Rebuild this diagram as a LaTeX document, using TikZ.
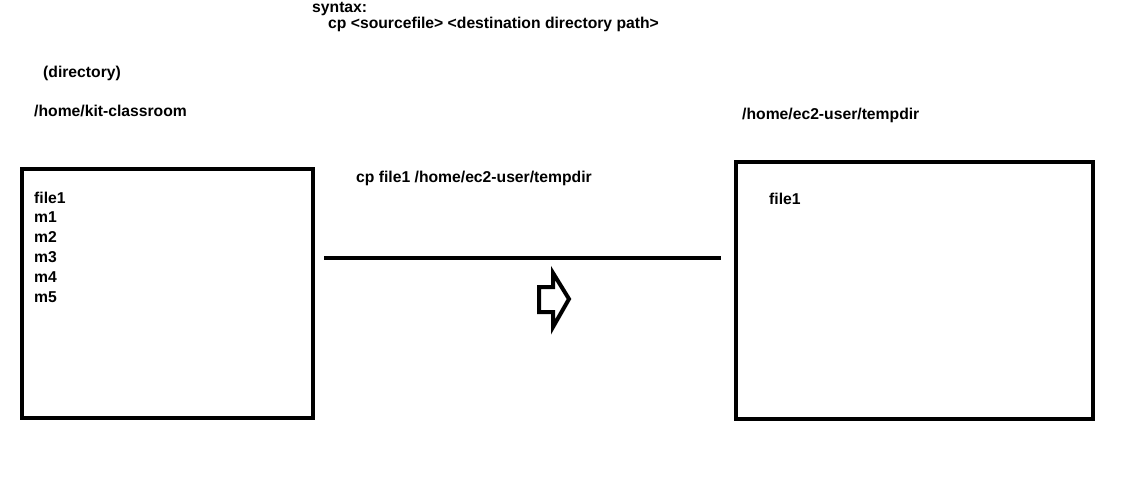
\documentclass[tikz,border=0pt]{standalone}
\usepackage{fontspec}
\setmainfont{Liberation Sans}
\newcommand{\dirbox}[1]
{   \draw[line width=4.5pt] #1;
}
\tikzset{lbl/.style={anchor=west,inner sep=0pt,font=\fontsize{15.7}{18}\selectfont\bfseries}}

\begin{document}
\begin{tikzpicture}[x=1pt,y=-1pt]
 \useasboundingbox (0,0) rectangle (1140,483);
 \node[lbl] (syn) at (312,9) {syntax:};
 \node[lbl] (usage) at (328,24.5) {cp <sourcefile> <destination directory path>};
 \node[lbl] (dirnote) at (43,73.5) {(directory)};
 \node[lbl] (srcpath) at (34,110.5) {/home/kit-classroom};
 \node[lbl] (dstpath) at (742,115.5) {/home/ec2-user/tempdir};
 \node[lbl] (cmd) at (356,178.5) {cp file1 /home/ec2-user/tempdir};
 % source directory
 \dirbox{(22,169) rectangle (313,418)}
 \foreach \f [count=\i from 0] in {file1,m1,m2,m3,m4,m5}
   \node[lbl] (src\i) at (34,197.5+20*\i) {\f};
 % destination directory
 \dirbox{(736,162) rectangle (1093,419)}
 \node[lbl] (dst0) at (769,198.5) {file1};
 \coordinate (from) at (324,258);
 \coordinate (to) at (721,258);
 \draw[line width=4pt] (from) -- (to);
 \draw[line width=4pt,line join=miter] (539,287) -- (553,287) -- (553,273) -- (569,299)
   -- (553,327) -- (553,312) -- (539,312) -- cycle;
\end{tikzpicture}
\end{document}
